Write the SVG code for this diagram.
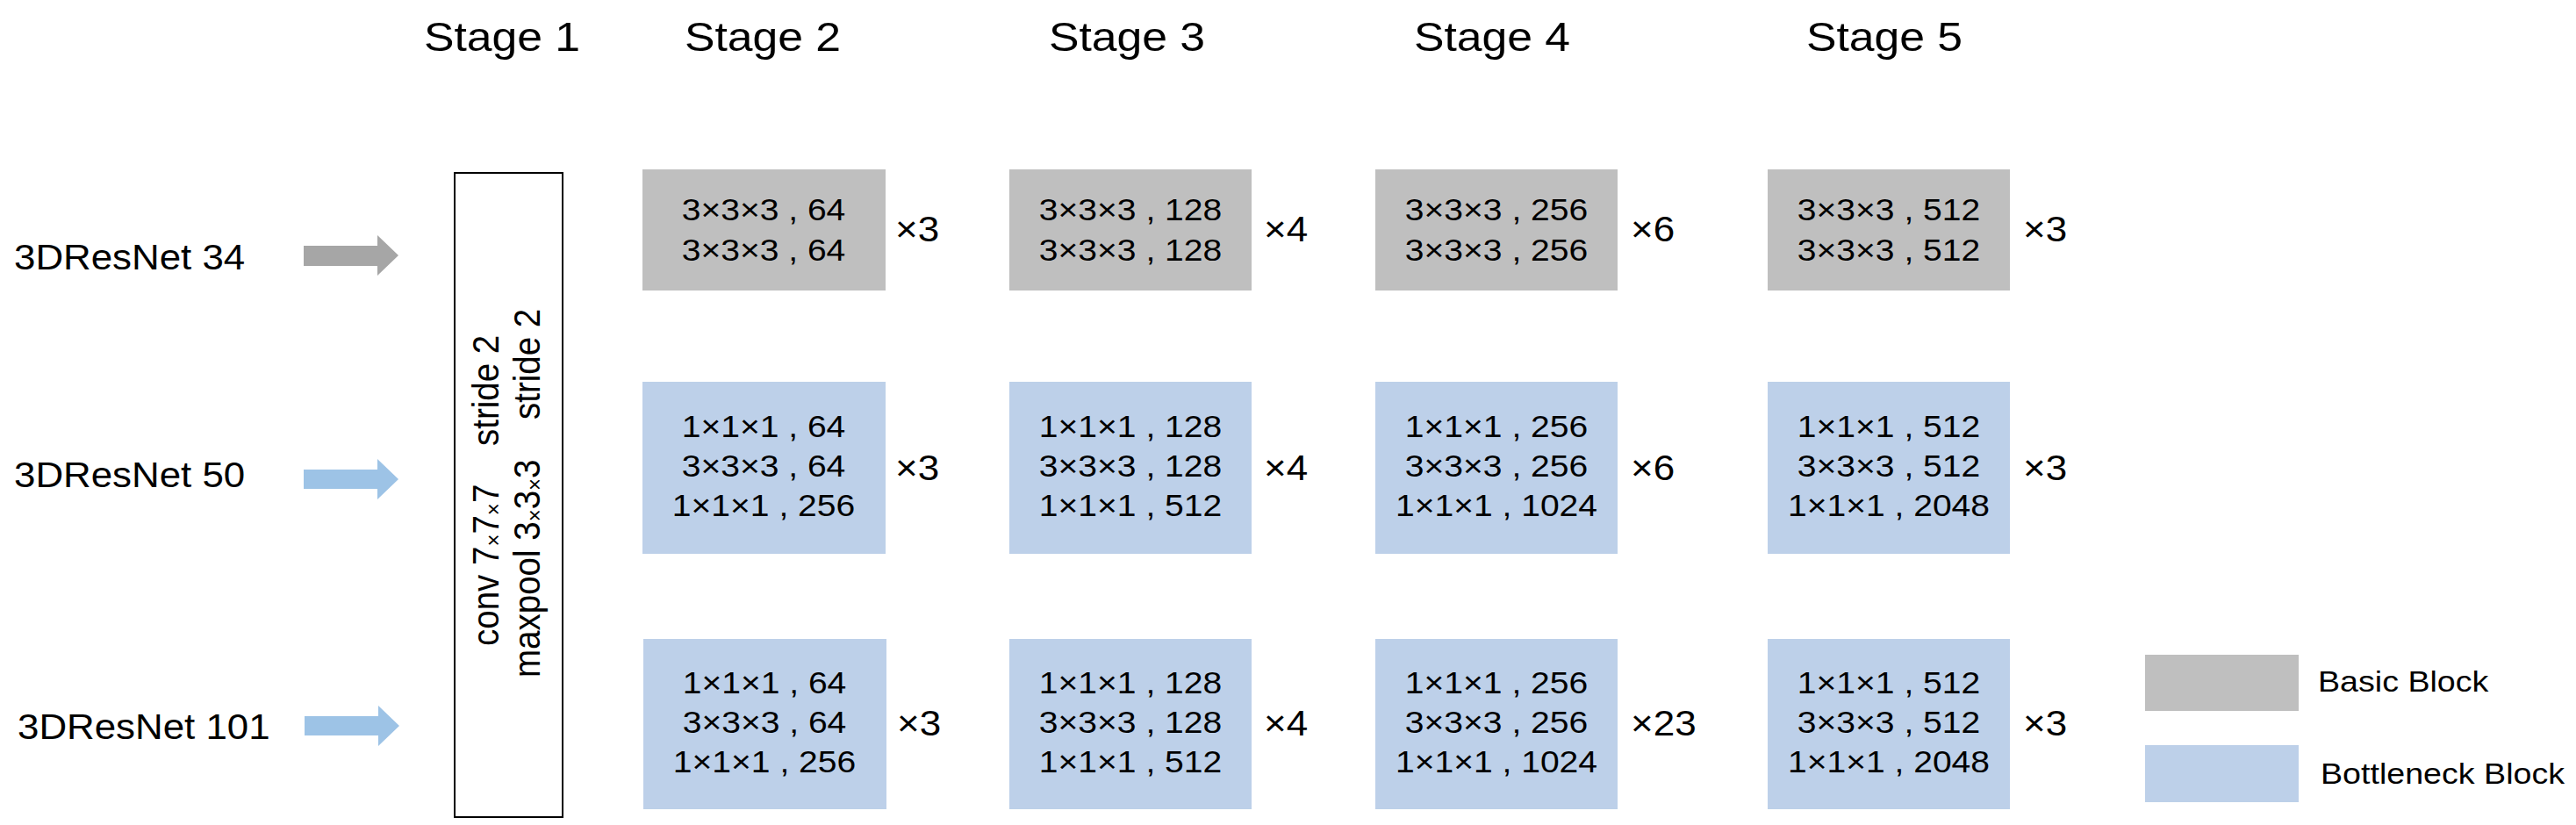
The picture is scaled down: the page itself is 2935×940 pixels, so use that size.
<svg xmlns="http://www.w3.org/2000/svg" width="2935" height="940" viewBox="0 0 2935 940">
<style>
text{font-family:"Liberation Sans",Arial,sans-serif;fill:#000}
.title{font-size:47px;text-anchor:middle}
.net{font-size:41px}
.blk{font-size:35.5px;text-anchor:middle}
.mul{font-size:40px}
.leg{font-size:33px}
.rot{font-size:38.5px}
.sx{font-size:24px}
.basic{fill:#bfbfbf}
.bott{fill:#bdd0e9}
.agray{fill:#a6a6a6}
.ablue{fill:#9dc3e6}
</style>
<rect width="2935" height="940" fill="#fff"/>

<g id="titles">
<text class="title" transform="translate(572,58) scale(1.1,1)">Stage 1</text>
<text class="title" transform="translate(869,58) scale(1.1,1)">Stage 2</text>
<text class="title" transform="translate(1284,58) scale(1.1,1)">Stage 3</text>
<text class="title" transform="translate(1700,58) scale(1.1,1)">Stage 4</text>
<text class="title" transform="translate(2147,58) scale(1.1,1)">Stage 5</text>
</g>

<g id="net34"><text class="net" transform="translate(16,307) scale(1.07,1)">3DResNet 34</text></g>
<g id="net50"><text class="net" transform="translate(16,555) scale(1.07,1)">3DResNet 50</text></g>
<g id="net101"><text class="net" transform="translate(20,842) scale(1.07,1)">3DResNet 101</text></g>

<g id="connectors">
<polygon class="agray" points="346,280 430,280 430,268 454,291 430,314 430,303 346,303"/>
<polygon class="ablue" points="346,535 430,535 430,523 454,546 430,569 430,557 346,557"/>
<polygon class="ablue" points="347,816 431,816 431,804 455,827 431,850 431,838 347,838"/>
</g>

<g id="stage1">
<rect x="518" y="197" width="123" height="734" fill="#fff" stroke="#000" stroke-width="2"/>
<g transform="translate(568,736) scale(1.1,1) rotate(-90)">
<text class="rot" x="0" y="0">conv 7<tspan class="sx" dy="3">×</tspan><tspan dy="-3">7</tspan><tspan class="sx" dy="3">×</tspan><tspan dy="-3">7</tspan></text>
<text class="rot" x="228" y="0">stride 2</text>
</g>
<g transform="translate(615,772) scale(1.1,1) rotate(-90)">
<text class="rot" x="0" y="0">maxpool 3<tspan class="sx" dy="3">×</tspan><tspan dy="-3">3</tspan><tspan class="sx" dy="3">×</tspan><tspan dy="-3">3</tspan></text>
<text class="rot" x="294" y="0">stride 2</text>
</g>
</g>

<!-- Row 1: basic blocks -->
<g id="s2r1"><rect class="basic" x="732" y="193" width="277" height="138"/>
<text class="blk" transform="translate(870,251) scale(1.1,1)"><tspan x="0">3×3×3 , 64</tspan><tspan x="0" dy="46">3×3×3 , 64</tspan></text>
<text class="mul" transform="translate(1020,275) scale(1.1,1)">×3</text></g>
<g id="s3r1"><rect class="basic" x="1150" y="193" width="276" height="138"/>
<text class="blk" transform="translate(1288,251) scale(1.1,1)"><tspan x="0">3×3×3 , 128</tspan><tspan x="0" dy="46">3×3×3 , 128</tspan></text>
<text class="mul" transform="translate(1440,275) scale(1.1,1)">×4</text></g>
<g id="s4r1"><rect class="basic" x="1567" y="193" width="276" height="138"/>
<text class="blk" transform="translate(1705,251) scale(1.1,1)"><tspan x="0">3×3×3 , 256</tspan><tspan x="0" dy="46">3×3×3 , 256</tspan></text>
<text class="mul" transform="translate(1858,275) scale(1.1,1)">×6</text></g>
<g id="s5r1"><rect class="basic" x="2014" y="193" width="276" height="138"/>
<text class="blk" transform="translate(2152,251) scale(1.1,1)"><tspan x="0">3×3×3 , 512</tspan><tspan x="0" dy="46">3×3×3 , 512</tspan></text>
<text class="mul" transform="translate(2305,275) scale(1.1,1)">×3</text></g>

<!-- Row 2: bottleneck (50) -->
<g id="s2r2"><rect class="bott" x="732" y="435" width="277" height="196"/>
<text class="blk" transform="translate(870,498) scale(1.1,1)"><tspan x="0">1×1×1 , 64</tspan><tspan x="0" dy="45">3×3×3 , 64</tspan><tspan x="0" dy="45">1×1×1 , 256</tspan></text>
<text class="mul" transform="translate(1020,547) scale(1.1,1)">×3</text></g>
<g id="s3r2"><rect class="bott" x="1150" y="435" width="276" height="196"/>
<text class="blk" transform="translate(1288,498) scale(1.1,1)"><tspan x="0">1×1×1 , 128</tspan><tspan x="0" dy="45">3×3×3 , 128</tspan><tspan x="0" dy="45">1×1×1 , 512</tspan></text>
<text class="mul" transform="translate(1440,547) scale(1.1,1)">×4</text></g>
<g id="s4r2"><rect class="bott" x="1567" y="435" width="276" height="196"/>
<text class="blk" transform="translate(1705,498) scale(1.1,1)"><tspan x="0">1×1×1 , 256</tspan><tspan x="0" dy="45">3×3×3 , 256</tspan><tspan x="0" dy="45">1×1×1 , 1024</tspan></text>
<text class="mul" transform="translate(1858,547) scale(1.1,1)">×6</text></g>
<g id="s5r2"><rect class="bott" x="2014" y="435" width="276" height="196"/>
<text class="blk" transform="translate(2152,498) scale(1.1,1)"><tspan x="0">1×1×1 , 512</tspan><tspan x="0" dy="45">3×3×3 , 512</tspan><tspan x="0" dy="45">1×1×1 , 2048</tspan></text>
<text class="mul" transform="translate(2305,547) scale(1.1,1)">×3</text></g>

<!-- Row 3: bottleneck (101) -->
<g id="s2r3"><rect class="bott" x="733" y="728" width="277" height="194"/>
<text class="blk" transform="translate(871,790) scale(1.1,1)"><tspan x="0">1×1×1 , 64</tspan><tspan x="0" dy="45">3×3×3 , 64</tspan><tspan x="0" dy="45">1×1×1 , 256</tspan></text>
<text class="mul" transform="translate(1022,838) scale(1.1,1)">×3</text></g>
<g id="s3r3"><rect class="bott" x="1150" y="728" width="276" height="194"/>
<text class="blk" transform="translate(1288,790) scale(1.1,1)"><tspan x="0">1×1×1 , 128</tspan><tspan x="0" dy="45">3×3×3 , 128</tspan><tspan x="0" dy="45">1×1×1 , 512</tspan></text>
<text class="mul" transform="translate(1440,838) scale(1.1,1)">×4</text></g>
<g id="s4r3"><rect class="bott" x="1567" y="728" width="276" height="194"/>
<text class="blk" transform="translate(1705,790) scale(1.1,1)"><tspan x="0">1×1×1 , 256</tspan><tspan x="0" dy="45">3×3×3 , 256</tspan><tspan x="0" dy="45">1×1×1 , 1024</tspan></text>
<text class="mul" transform="translate(1858,838) scale(1.1,1)">×23</text></g>
<g id="s5r3"><rect class="bott" x="2014" y="728" width="276" height="194"/>
<text class="blk" transform="translate(2152,790) scale(1.1,1)"><tspan x="0">1×1×1 , 512</tspan><tspan x="0" dy="45">3×3×3 , 512</tspan><tspan x="0" dy="45">1×1×1 , 2048</tspan></text>
<text class="mul" transform="translate(2305,838) scale(1.1,1)">×3</text></g>

<g id="legend-basic"><rect class="basic" x="2444" y="746" width="175" height="64"/>
<text class="leg" transform="translate(2641,788) scale(1.14,1)">Basic Block</text></g>
<g id="legend-bottleneck"><rect class="bott" x="2444" y="849" width="175" height="65"/>
<text class="leg" transform="translate(2644,893) scale(1.14,1)">Bottleneck Block</text></g>
</svg>
